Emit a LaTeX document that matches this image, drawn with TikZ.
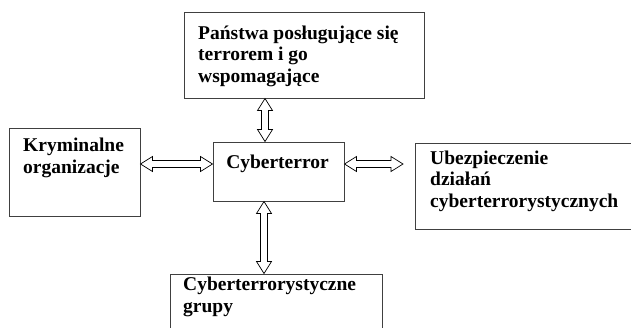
\documentclass[tikz,border=0pt]{standalone}
\usepackage{fontspec}
\setmainfont{Liberation Serif}
\usetikzlibrary{calc}
\tikzset{
  box/.style={draw=black!75, line width=1pt, rectangle, inner sep=0pt},
  txt/.style={inner sep=0pt, anchor=base west, align=left, font=\fontsize{19.5}{21.5}\selectfont\bfseries},
  arr/.style={draw=black, line width=0.7pt, fill=white}
}
\newcommand\hollowH[2]{%
  \path[arr] let \p1=#1, \p2=#2 in
   (\x1,\y1) -- (\x1+12pt,\y1+7.5pt) -- (\x1+12pt,\y1+3.5pt) -- (\x2-12pt,\y1+3.5pt) -- (\x2-12pt,\y1+7.5pt)
   -- (\x2,\y1) -- (\x2-12pt,\y1-7.5pt) -- (\x2-12pt,\y1-3.5pt) -- (\x1+12pt,\y1-3.5pt) -- (\x1+12pt,\y1-7.5pt) -- cycle;}
\newcommand\hollowV[2]{%
  \path[arr] let \p1=#1, \p2=#2 in
   (\x1,\y1) -- (\x1+7.5pt,\y1-12pt) -- (\x1+3.5pt,\y1-12pt) -- (\x1+3.5pt,\y2+12pt) -- (\x1+7.5pt,\y2+12pt)
   -- (\x1,\y2) -- (\x1-7.5pt,\y2+12pt) -- (\x1-3.5pt,\y2+12pt) -- (\x1-3.5pt,\y1-12pt) -- (\x1-7.5pt,\y1-12pt) -- cycle;}
\begin{document}
\begin{tikzpicture}[x=1pt,y=-1pt]
\useasboundingbox (0,0) rectangle (631,327);
\clip (0,0) rectangle (631,327);
% boxes
\node[box, minimum width=240pt, minimum height=86pt] (T) at (304,55) {};
\node[box, minimum width=131pt, minimum height=88pt] (L) at (74.5,172) {};
\node[box, minimum width=131pt, minimum height=59pt] (C) at (278.5,171.5) {};
\node[box, minimum width=230pt, minimum height=86pt] (R) at (530,186) {};
\node[box, minimum width=212pt, minimum height=80pt] (B) at (276,314) {};
% texts (base anchor = baseline of the last line)
\node[txt] (Tt) at (198,82) {Państwa posługujące się\\terrorem i go\\wspomagające};
\node[txt] (Lt) at (23,173) {Kryminalne\\organizacje};
\node[txt, anchor=base] (Ct) at (277.5,168) {Cyberterror};
\node[txt] (Rt) at (430,207) {Ubezpieczenie\\działań\\cyberterrorystycznych};
\node[txt] (Bt) at (183,312) {Cyberterrorystyczne\\grupy};
% connector end points
\coordinate (t1) at (T.south -| 265,0);
\coordinate (t2) at (C.north -| 265,0);
\coordinate (l1) at (L.east |- 0,164);
\coordinate (l2) at (C.west |- 0,164);
\coordinate (r1) at (C.east |- 0,164);
\coordinate (r2) at (403,164);
\coordinate (b1) at (C.south -| 264,0);
\coordinate (b2) at (B.north -| 264,0);
% arrows
\hollowV{(t1)}{(t2)}
\hollowH{(l1)}{(l2)}
\hollowH{(r1)}{(r2)}
\hollowV{(b1)}{(b2)}
\end{tikzpicture}
\end{document}
